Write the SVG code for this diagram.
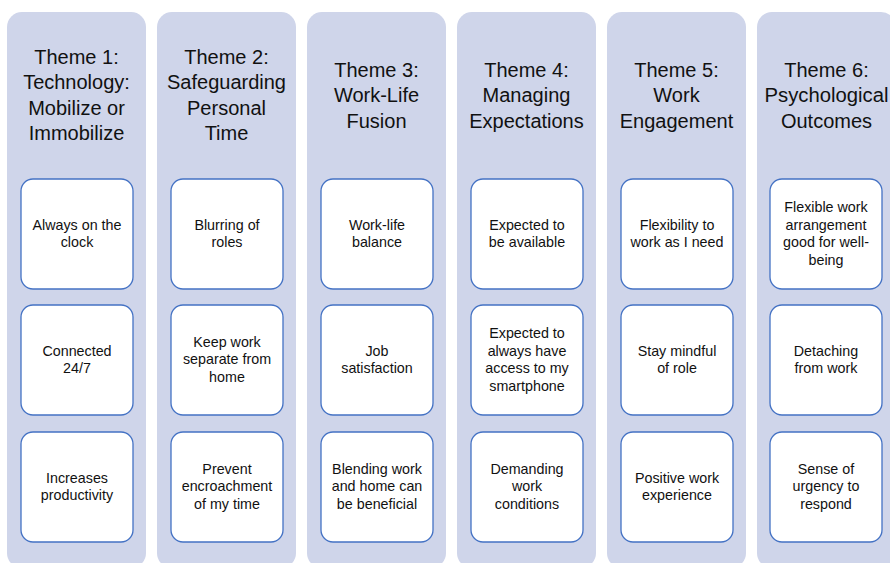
<svg xmlns="http://www.w3.org/2000/svg" width="890" height="563" viewBox="0 0 890 563">
  <style>
    .col { fill: #CFD5EA; }
    .box { fill: #FFFFFF; stroke: #4472C4; stroke-width: 1.3; }
    .hd { font-family: "Liberation Sans", Arial, sans-serif; font-size: 20px; fill: #111111; text-anchor: middle; }
    .bt { font-family: "Liberation Sans", Arial, sans-serif; font-size: 14.3px; fill: #111111; text-anchor: middle; }
  </style>
  <rect width="890" height="563" fill="#FFFFFF"/>

  <!-- Theme 1 -->
  <g id="theme1">
    <rect class="col" x="7" y="12" width="139" height="556" rx="15"/>
    <text class="hd" x="76.5" y="63.75">Theme 1:</text>
    <text class="hd" x="76.5" y="89.25">Technology:</text>
    <text class="hd" x="76.5" y="114.75">Mobilize or</text>
    <text class="hd" x="76.5" y="140.25">Immobilize</text>
    <g id="t1-a"><rect class="box" x="21" y="179" width="112" height="110" rx="12"/>
      <text class="bt" x="77" y="229.55">Always on the</text><text class="bt" x="77" y="247.05">clock</text></g>
    <g id="t1-b"><rect class="box" x="21" y="305" width="112" height="110" rx="12"/>
      <text class="bt" x="77" y="355.55">Connected</text><text class="bt" x="77" y="373.05">24/7</text></g>
    <g id="t1-c"><rect class="box" x="21" y="432" width="112" height="110" rx="12"/>
      <text class="bt" x="77" y="482.55">Increases</text><text class="bt" x="77" y="500.05">productivity</text></g>
  </g>

  <!-- Theme 2 -->
  <g id="theme2">
    <rect class="col" x="157" y="12" width="139" height="556" rx="15"/>
    <text class="hd" x="226.5" y="63.75">Theme 2:</text>
    <text class="hd" x="226.5" y="89.25">Safeguarding</text>
    <text class="hd" x="226.5" y="114.75">Personal</text>
    <text class="hd" x="226.5" y="140.25">Time</text>
    <g id="t2-a"><rect class="box" x="171" y="179" width="112" height="110" rx="12"/>
      <text class="bt" x="227" y="229.55">Blurring of</text><text class="bt" x="227" y="247.05">roles</text></g>
    <g id="t2-b"><rect class="box" x="171" y="305" width="112" height="110" rx="12"/>
      <text class="bt" x="227" y="346.8">Keep work</text><text class="bt" x="227" y="364.3">separate from</text><text class="bt" x="227" y="381.8">home</text></g>
    <g id="t2-c"><rect class="box" x="171" y="432" width="112" height="110" rx="12"/>
      <text class="bt" x="227" y="473.8">Prevent</text><text class="bt" x="227" y="491.3">encroachment</text><text class="bt" x="227" y="508.8">of my time</text></g>
  </g>

  <!-- Theme 3 -->
  <g id="theme3">
    <rect class="col" x="307" y="12" width="139" height="556" rx="15"/>
    <text class="hd" x="376.5" y="76.5">Theme 3:</text>
    <text class="hd" x="376.5" y="102">Work-Life</text>
    <text class="hd" x="376.5" y="127.5">Fusion</text>
    <g id="t3-a"><rect class="box" x="321" y="179" width="112" height="110" rx="12"/>
      <text class="bt" x="377" y="229.55">Work-life</text><text class="bt" x="377" y="247.05">balance</text></g>
    <g id="t3-b"><rect class="box" x="321" y="305" width="112" height="110" rx="12"/>
      <text class="bt" x="377" y="355.55">Job</text><text class="bt" x="377" y="373.05">satisfaction</text></g>
    <g id="t3-c"><rect class="box" x="321" y="432" width="112" height="110" rx="12"/>
      <text class="bt" x="377" y="473.8">Blending work</text><text class="bt" x="377" y="491.3">and home can</text><text class="bt" x="377" y="508.8">be beneficial</text></g>
  </g>

  <!-- Theme 4 -->
  <g id="theme4">
    <rect class="col" x="457" y="12" width="139" height="556" rx="15"/>
    <text class="hd" x="526.5" y="76.5">Theme 4:</text>
    <text class="hd" x="526.5" y="102">Managing</text>
    <text class="hd" x="526.5" y="127.5">Expectations</text>
    <g id="t4-a"><rect class="box" x="471" y="179" width="112" height="110" rx="12"/>
      <text class="bt" x="527" y="229.55">Expected to</text><text class="bt" x="527" y="247.05">be available</text></g>
    <g id="t4-b"><rect class="box" x="471" y="305" width="112" height="110" rx="12"/>
      <text class="bt" x="527" y="338.05">Expected to</text><text class="bt" x="527" y="355.55">always have</text><text class="bt" x="527" y="373.05">access to my</text><text class="bt" x="527" y="390.55">smartphone</text></g>
    <g id="t4-c"><rect class="box" x="471" y="432" width="112" height="110" rx="12"/>
      <text class="bt" x="527" y="473.8">Demanding</text><text class="bt" x="527" y="491.3">work</text><text class="bt" x="527" y="508.8">conditions</text></g>
  </g>

  <!-- Theme 5 -->
  <g id="theme5">
    <rect class="col" x="607" y="12" width="139" height="556" rx="15"/>
    <text class="hd" x="676.5" y="76.5">Theme 5:</text>
    <text class="hd" x="676.5" y="102">Work</text>
    <text class="hd" x="676.5" y="127.5">Engagement</text>
    <g id="t5-a"><rect class="box" x="621" y="179" width="112" height="110" rx="12"/>
      <text class="bt" x="677" y="229.55">Flexibility to</text><text class="bt" x="677" y="247.05">work as I need</text></g>
    <g id="t5-b"><rect class="box" x="621" y="305" width="112" height="110" rx="12"/>
      <text class="bt" x="677" y="355.55">Stay mindful</text><text class="bt" x="677" y="373.05">of role</text></g>
    <g id="t5-c"><rect class="box" x="621" y="432" width="112" height="110" rx="12"/>
      <text class="bt" x="677" y="482.55">Positive work</text><text class="bt" x="677" y="500.05">experience</text></g>
  </g>

  <!-- Theme 6 -->
  <g id="theme6">
    <rect class="col" x="757" y="12" width="139" height="556" rx="15"/>
    <text class="hd" x="826.5" y="76.5">Theme 6:</text>
    <text class="hd" x="826.5" y="102" textLength="124" lengthAdjust="spacingAndGlyphs">Psychological</text>
    <text class="hd" x="826.5" y="127.5">Outcomes</text>
    <g id="t6-a"><rect class="box" x="770" y="179" width="112" height="110" rx="12"/>
      <text class="bt" x="826" y="212.05">Flexible work</text><text class="bt" x="826" y="229.55">arrangement</text><text class="bt" x="826" y="247.05">good for well-</text><text class="bt" x="826" y="264.55">being</text></g>
    <g id="t6-b"><rect class="box" x="770" y="305" width="112" height="110" rx="12"/>
      <text class="bt" x="826" y="355.55">Detaching</text><text class="bt" x="826" y="373.05">from work</text></g>
    <g id="t6-c"><rect class="box" x="770" y="432" width="112" height="110" rx="12"/>
      <text class="bt" x="826" y="473.8">Sense of</text><text class="bt" x="826" y="491.3">urgency to</text><text class="bt" x="826" y="508.8">respond</text></g>
  </g>

  <!-- no connectors in this layout -->
  <g id="connectors"/>
</svg>
